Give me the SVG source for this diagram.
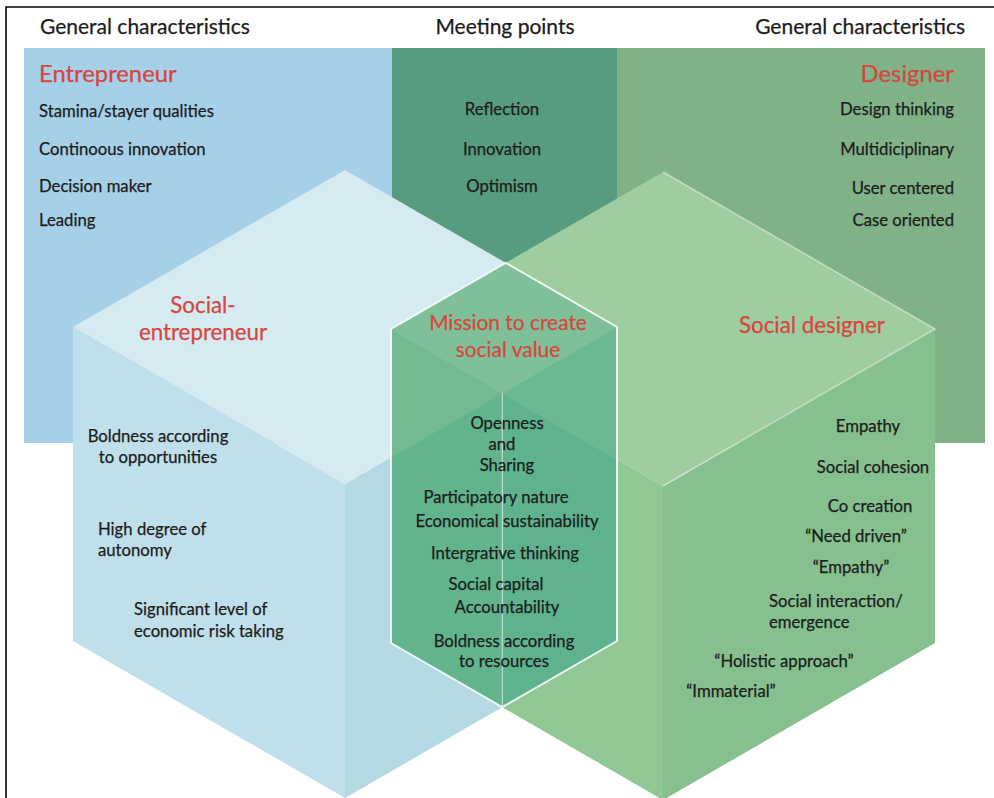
<svg xmlns="http://www.w3.org/2000/svg" width="994" height="798" viewBox="0 0 994 798">
  <style>
    text { font-family: Lato, "Open Sans", "Liberation Sans", sans-serif; fill: #1c1c1c; stroke: #1c1c1c; stroke-width: 0.25px; }
    .hdr { font-size: 21px; }
    .item { font-size: 16.7px; }
    .ttl { font-size: 23.8px; fill: #d6463f; stroke: #d6463f; }
    .sttl { font-size: 22.3px; fill: #d6463f; stroke: #d6463f; }
    .mttl { font-size: 20.9px; fill: #d6463f; stroke: #d6463f; }
    .mid { text-anchor: middle; }
    .end { text-anchor: end; }
    .edge { fill: none; stroke: #ffffff; }
  </style>

  <rect width="994" height="798" fill="#ffffff"/>
  <!-- frame -->
  <path d="M6,798 V7 H994" fill="none" stroke="#000000" stroke-width="1.6"/>

  <!-- column headings -->
  <g id="headings">
    <text class="hdr" x="40" y="34">General characteristics</text>
    <text class="hdr mid" x="505" y="34">Meeting points</text>
    <text class="hdr end" x="965" y="34">General characteristics</text>
  </g>

  <!-- background panels -->
  <g id="entrepreneur">
    <rect x="24" y="48" width="368" height="395" fill="#a6cfe8"/>
    <text class="ttl" x="39" y="82">Entrepreneur</text>
    <text class="item" x="39" y="117">Stamina/stayer qualities</text>
    <text class="item" x="39" y="155">Continoous innovation</text>
    <text class="item" x="39" y="192">Decision maker</text>
    <text class="item" x="39" y="226">Leading</text>
  </g>

  <g id="meeting-points">
    <rect x="392" y="48" width="225" height="395" fill="#589c7f"/>
    <text class="item mid" x="502" y="115">Reflection</text>
    <text class="item mid" x="502" y="155">Innovation</text>
    <text class="item mid" x="502" y="192">Optimism</text>
  </g>

  <g id="designer">
    <rect x="617" y="48" width="368" height="395" fill="#80b287"/>
    <text class="ttl end" x="954" y="82">Designer</text>
    <text class="item end" x="954" y="115">Design thinking</text>
    <text class="item end" x="954" y="155">Multidiciplinary</text>
    <text class="item end" x="954" y="194">User centered</text>
    <text class="item end" x="954" y="226">Case oriented</text>
  </g>

  <!-- left cube -->
  <g id="social-entrepreneur">
    <polygon points="345,170 73,327 345,484 617,327" fill="#d6eaf1"/>
    <polygon points="73,327 73,641 345,798 345,484" fill="#bfe0ea"/>
    <polygon points="345,484 617,327 617,641 345,798" fill="#b3d9e3"/>
    <text class="sttl mid" x="203" y="313">Social-</text>
    <text class="sttl mid" x="203" y="340">entrepreneur</text>
    <text class="item mid" x="158" y="442">Boldness according</text>
    <text class="item mid" x="158" y="463">to opportunities</text>
    <text class="item" x="98" y="535">High degree of</text>
    <text class="item" x="98" y="556">autonomy</text>
    <text class="item" x="134" y="615">Significant level of</text>
    <text class="item" x="134" y="637">economic risk taking</text>
  </g>

  <!-- right cube -->
  <g id="social-designer">
    <polygon points="663,172 391,329 663,486 935,329" fill="#9ecd9f"/>
    <polygon points="391,329 391,643 663,800 663,486" fill="#91c795"/>
    <polygon points="663,486 935,329 935,643 663,800" fill="#85c08e"/>
    <path class="edge" d="M663,172 L935,329 L663,486" stroke-width="1.5" stroke-opacity="0.45"/>
    <text class="sttl mid" x="812" y="333">Social designer</text>
    <text class="item mid" x="868" y="432">Empathy</text>
    <text class="item mid" x="873" y="473">Social cohesion</text>
    <text class="item mid" x="870" y="512">Co creation</text>
    <text class="item mid" x="856" y="542">“Need driven”</text>
    <text class="item mid" x="851" y="573">“Empathy”</text>
    <text class="item" x="769" y="607">Social interaction/</text>
    <text class="item" x="769" y="628">emergence</text>
    <text class="item mid" x="784" y="667">“Holistic approach”</text>
    <text class="item mid" x="731" y="697">“Immaterial”</text>
  </g>

  <!-- overlap of both cubes -->
  <g id="social-value">
    <polygon points="505.7,262.8 391,329 502.3,393.2 617,327" fill="#80c098"/>
    <polygon points="391,329 502.3,393.2 391,457.4" fill="#74ba90"/>
    <polygon points="617,327 502.3,393.2 617,459.4" fill="#6bb993"/>
    <polygon points="391,457.4 502.3,393.2 502.3,707.2 391,643" fill="#61b48c"/>
    <polygon points="502.3,393.2 617,459.4 617,641 502.3,707.2" fill="#5eb38e"/>
    <polygon class="edge" points="505.7,262.8 617,327 617,641 502.3,707.2 391,643 391,329" stroke-width="2" stroke-opacity="0.85"/>
    <line class="edge" x1="502.3" y1="393.2" x2="502.3" y2="707.2" stroke-width="1" stroke-opacity="0.7"/>
    <text class="mttl mid" x="508" y="330">Mission to create</text>
    <text class="mttl mid" x="508" y="357">social value</text>
    <text class="item mid" x="507" y="429">Openness</text>
    <text class="item mid" x="502" y="450">and</text>
    <text class="item mid" x="507" y="471">Sharing</text>
    <text class="item mid" x="496" y="503">Participatory nature</text>
    <text class="item mid" x="507" y="527">Economical sustainability</text>
    <text class="item mid" x="505" y="559">Intergrative thinking</text>
    <text class="item mid" x="496" y="590">Social capital</text>
    <text class="item mid" x="507" y="613">Accountability</text>
    <text class="item mid" x="504" y="647">Boldness according</text>
    <text class="item mid" x="504" y="667">to resources</text>
  </g>
</svg>
